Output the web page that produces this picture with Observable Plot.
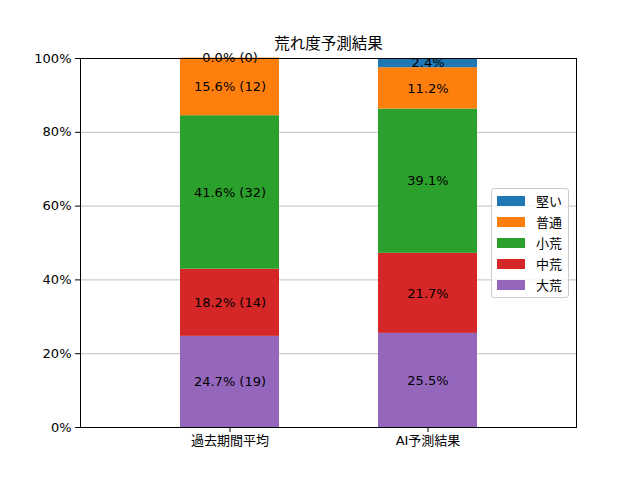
<!DOCTYPE html>
<html>
<head>
<meta charset="utf-8">
<script src="https://cdn.jsdelivr.net/npm/d3@7"></script>
<script src="https://cdn.jsdelivr.net/npm/@observablehq/plot@0.6"></script>
<style>
  body { margin: 0; background: #fff; }
  #wrap { position: relative; width: 640px; height: 480px; font-family: "DejaVu Sans", "Noto Sans CJK JP", sans-serif; }
  #legend { position: absolute; left: 491px; top: 188px; width: 78px; height: 110px; border: 1px solid #cccccc; border-radius: 3px; background: rgba(255,255,255,0.8); box-sizing: border-box; padding: 1px 0 0 5px; }
  .item { display: flex; align-items: center; height: 21px; font-size: 13px; color: #000; }
  .sw { width: 28px; height: 10px; margin-right: 11px; }
</style>
</head>
<body>
<div id="wrap"></div>
<script>
const title = "荒れ度予測結果";
const categories = ["過去期間平均", "AI予測結果"];
const levels = ["大荒", "中荒", "小荒", "普通", "堅い"];
const colors = ["#9467bd", "#d62728", "#2ca02c", "#ff7f0e", "#1f77b4"];
const pastPct = [24.7, 18.2, 41.6, 15.6, 0.0];
const pastCount = [19, 14, 32, 12, 0];
const aiPct = [25.5, 21.7, 39.1, 11.2, 2.4];
const yTicks = [0, 0.2, 0.4, 0.6, 0.8, 1.0];

const rows = [];
levels.forEach((lv, i) => {
  rows.push({cat: categories[0], level: lv, v: pastPct[i] / 100, label: `${pastPct[i].toFixed(1)}% (${pastCount[i]})`});
});
levels.forEach((lv, i) => {
  rows.push({cat: categories[1], level: lv, v: aiPct[i] / 100, label: `${aiPct[i].toFixed(1)}%`});
});

const chart = Plot.plot({
  width: 640,
  height: 480,
  marginLeft: 80,
  marginRight: 64,
  marginTop: 58,
  marginBottom: 53,
  style: {fontFamily: '"DejaVu Sans", "Noto Sans CJK JP", sans-serif', fontSize: "13px", color: "#000", background: "#fff"},
  x: {domain: categories, padding: 0.5, label: null, tickSize: 5, tickPadding: 3},
  y: {domain: [0, 1], ticks: yTicks, tickFormat: d3.format(".0%"), label: null, tickSize: 5, tickPadding: 4},
  color: {domain: levels, range: colors},
  marks: [
    Plot.ruleY(yTicks.slice(1, -1), {stroke: "#b0b0b0", strokeWidth: 0.8}),
    Plot.barY(rows, {x: "cat", y: "v", fill: "level", order: levels}),
    Plot.textY(rows, Plot.stackY({x: "cat", y: "v", z: "level", order: levels, text: "label", fill: "#000", fontSize: 13})),
    Plot.frame({stroke: "#000", strokeWidth: 1}),
    Plot.text([title], {frameAnchor: "top", lineAnchor: "middle", dy: -14, fontSize: 15.5, fill: "#000", fontFamily: '"Noto Sans CJK JP", sans-serif'})
  ]
});
const wrap = document.getElementById("wrap");
wrap.appendChild(chart);

const legend = document.createElement("div");
legend.id = "legend";
for (let i = levels.length - 1; i >= 0; i--) {
  const it = document.createElement("div");
  it.className = "item";
  const sw = document.createElement("div");
  sw.className = "sw";
  sw.style.background = colors[i];
  const t = document.createElement("span");
  t.textContent = levels[i];
  t.style.fontFamily = '"Noto Sans CJK JP", sans-serif';
  it.appendChild(sw);
  it.appendChild(t);
  legend.appendChild(it);
}
wrap.appendChild(legend);
</script>
</body>
</html>
